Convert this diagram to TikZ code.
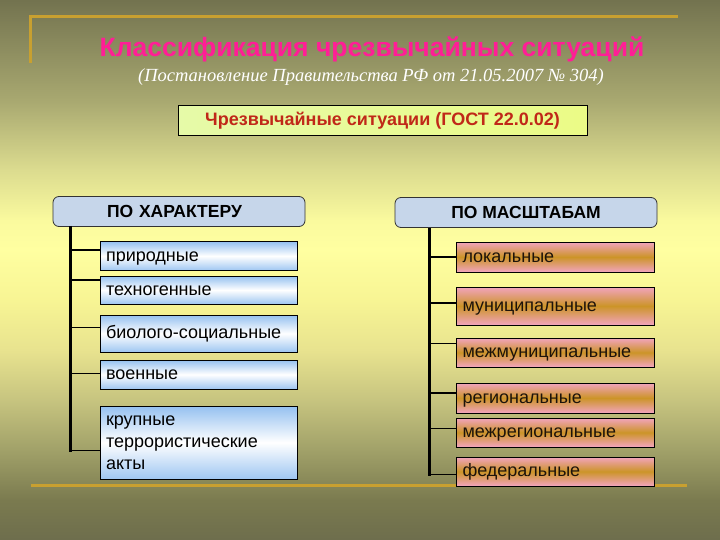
\documentclass[tikz,border=0pt]{standalone}
\usepackage{fontspec}
\setmainfont{Liberation Sans}
\newfontfamily\serifit{Liberation Serif}
\usetikzlibrary{positioning,calc}
\definecolor{goldline}{HTML}{C8A030}
\definecolor{titlepink}{HTML}{FF1E96}
\definecolor{gostred}{HTML}{C02818}
\definecolor{hdrblue}{HTML}{C6D6EA}
\definecolor{boxblue}{HTML}{94C0F0}
\definecolor{boxpink}{HTML}{F2A4BE}
\definecolor{boxgold}{HTML}{CC9428}
\definecolor{gostgreen}{HTML}{E6FAA8}
\pgfdeclareverticalshading{bgshade}{100bp}{
  rgb(0bp)=(0.43,0.43,0.30);
  rgb(25bp)=(0.43,0.43,0.30);
  rgb(28.7bp)=(0.48,0.48,0.31);
  rgb(33.3bp)=(0.63,0.63,0.41);
  rgb(38bp)=(0.78,0.77,0.50);
  rgb(42.6bp)=(0.91,0.89,0.56);
  rgb(47.2bp)=(0.97,0.96,0.58);
  rgb(51.9bp)=(1.0,1.0,0.63);
  rgb(54.6bp)=(0.98,0.98,0.62);
  rgb(59.3bp)=(0.86,0.86,0.56);
  rgb(65.7bp)=(0.66,0.66,0.44);
  rgb(75bp)=(0.45,0.45,0.31);
  rgb(100bp)=(0.45,0.45,0.31)}
\tikzset{
  goldrule/.style={draw=goldline,line width=3pt},
  hdrbox/.style={draw=black!80,rounded corners=6pt,fill=hdrblue,line width=0.8pt,
    minimum height=30pt,font=\bfseries\fontsize{17.5}{19}\selectfont},
  leftbox/.style={draw=black,line width=0.8pt,top color=boxblue,bottom color=boxblue!90,
    middle color=white,minimum width=197pt,text width=185pt,align=left,inner sep=6pt,
    font=\fontsize{18}{22}\selectfont,text height=10pt,text depth=0pt},
  rightbox/.style={draw=black,line width=0.8pt,top color=boxpink,bottom color=boxpink,
    middle color=boxgold,minimum width=198pt,text width=186pt,align=left,inner sep=6pt,
    font=\fontsize{18}{20}\selectfont,text=black!85!brown,text height=10pt,text depth=0pt},
  trunk/.style={draw=black,line width=3pt},
  branch/.style={draw=black,line width=1.1pt}
}
\begin{document}
\begin{tikzpicture}[x=1pt,y=-1pt]
\useasboundingbox (0,0) rectangle (720,540);
\shade[shading=bgshade] (0,0) rectangle (720,540);
% gold rules
\draw[goldrule] (30,63) -- (30,17) -- (678,17);
\draw[goldrule] (31,485) -- (687,485);
% titles
\node[font=\bfseries\fontsize{26.5}{28}\selectfont,text=titlepink] (title) at (372,49.5) {Классификация чрезвычайных ситуаций};
\node[font=\serifit\itshape\fontsize{18.5}{20}\selectfont,text=white] (subtitle) at (371,77) {(Постановление Правительства РФ от 21.05.2007 № 304)};
% GOST box
\node[draw=black,line width=0.8pt,left color=gostgreen,right color=gostgreen!80!yellow,
  minimum width=409pt,minimum height=30pt,text=gostred,
  font=\bfseries\fontsize{18}{20}\selectfont] (gost) at (382.5,120.5) {Чрезвычайные ситуации (ГОСТ 22.0.02)};
% headers
\node[hdrbox,minimum width=252pt,text width=232pt,align=left] (hl) at (179,211.5) {\hspace*{44pt}ПО ХАРАКТЕРУ};
\node[hdrbox,minimum width=262pt] (hr) at (526,212.5) {ПО МАСШТАБАМ};
% left boxes
\node[leftbox,minimum height=29pt] (l1) at (198.5,256) {природные};
\node[leftbox,minimum height=28pt] (l2) at (198.5,290) {техногенные};
\node[leftbox,minimum height=37pt] (l3) at (198.5,333.5) {биолого-социальные};
\node[leftbox,minimum height=29pt] (l4) at (198.5,374.5) {военные};
\node[leftbox,minimum height=73pt,text height=10pt,text depth=44pt] (l5) at (198.5,442.5) {крупные\\террористические\\акты};
% right boxes
\node[rightbox,minimum height=30pt] (r1) at (555.5,257) {локальные};
\node[rightbox,minimum height=38pt] (r2) at (555.5,306) {муниципальные};
\node[rightbox,minimum height=29pt] (r3) at (555.5,352.5) {межмуниципальные};
\node[rightbox,minimum height=30pt] (r4) at (555.5,398) {региональные};
\node[rightbox,minimum height=29pt] (r5) at (555.5,432.5) {межрегиональные};
\node[rightbox,minimum height=29pt] (r6) at (555.5,471.5) {федеральные};
% trunks
\coordinate (ltop) at (70,226);
\coordinate (lbot) at (70,451.5);
\coordinate (rtop) at (429,228);
\coordinate (rbot) at (429,475.5);
\draw[trunk] (ltop) -- (lbot);
\draw[trunk] (rtop) -- (rbot);
% left branches
\draw[branch] ([yshift=6pt]l1.west) -- ([yshift=6pt]l1.west -| ltop);
\draw[branch] ([yshift=10pt]l2.west) -- ([yshift=10pt]l2.west -| ltop);
\draw[branch] ([yshift=6pt]l3.west) -- ([yshift=6pt]l3.west -| ltop);
\draw[branch] ([yshift=1pt]l4.west) -- ([yshift=1pt]l4.west -| ltop);
\draw[branch] ([yshift=-8pt]l5.west) -- ([yshift=-8pt]l5.west -| ltop);
% right branches
\draw[branch] (r1.west) -- (r1.west -| rtop);
\draw[branch] ([yshift=3pt]r2.west) -- ([yshift=3pt]r2.west -| rtop);
\draw[branch] ([yshift=9pt]r3.west) -- ([yshift=9pt]r3.west -| rtop);
\draw[branch] ([yshift=5pt]r4.west) -- ([yshift=5pt]r4.west -| rtop);
\draw[branch] ([yshift=4pt]r5.west) -- ([yshift=4pt]r5.west -| rtop);
\draw[branch] ([yshift=-3pt]r6.west) -- ([yshift=-3pt]r6.west -| rtop);
\end{tikzpicture}
\end{document}
